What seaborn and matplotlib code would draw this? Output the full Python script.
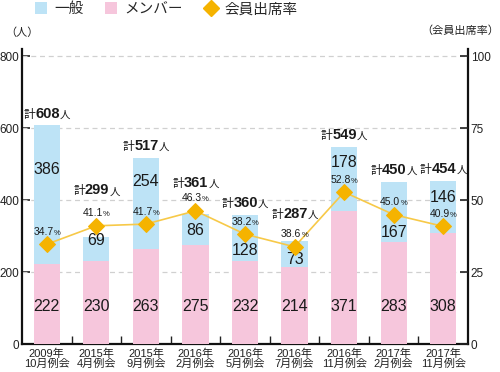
import matplotlib
matplotlib.use("Agg")
import matplotlib.pyplot as plt
import seaborn as sns
import pandas as pd
from matplotlib.patches import Patch
from matplotlib.lines import Line2D
from matplotlib.offsetbox import TextArea, HPacker, AnnotationBbox

sns.set_theme(style="white")
plt.rcParams['font.family'] = ['Liberation Sans', 'Noto Sans CJK JP', 'DejaVu Sans']

categories = ["2009年\n10月例会", "2015年\n4月例会", "2015年\n9月例会", "2016年\n2月例会",
              "2016年\n5月例会", "2016年\n7月例会", "2016年\n11月例会", "2017年\n2月例会",
              "2017年\n11月例会"]
members = [222, 230, 263, 275, 232, 214, 371, 283, 308]
general = [386, 69, 254, 86, 128, 73, 178, 167, 146]
totals = [608, 299, 517, 361, 360, 287, 549, 450, 454]
# attendance rate as plotted (marker heights)
attendance = [34.7, 41.1, 41.7, 46.3, 38.2, 33.8, 52.8, 45.0, 40.9]
# attendance rate as printed in the labels
attendance_labels = ["34.7", "41.1", "41.7", "46.3", "38.2", "38.6", "52.8", "45.0", "40.9"]

# label placement (layout only)
general_label_y = [484, 289, 451, 316, 259, 235, 505, 311, 408]
total_label_y = [640, 427, 551, 449, 392, 362, 581, 484, 486]
member_label_y = 105

blue = "#bde3f6"
pink = "#f6c6dc"
line_c = "#f7c948"
mark_c = "#f5b300"
txt = "#1a1a1a"

df = pd.DataFrame({"cat": categories, "member": members, "general": general,
                   "total": totals, "rate": attendance})

fig = plt.figure(figsize=(5.0, 3.72), dpi=100)
ax = fig.add_axes([0.044, 0.075, 0.892, 0.793])

sns.barplot(data=df, x="cat", y="total", color=blue, width=0.53, ax=ax,
            saturation=1, linewidth=0, zorder=2)
sns.barplot(data=df, x="cat", y="member", color=pink, width=0.53, ax=ax,
            saturation=1, linewidth=0, zorder=3)

ax.set_ylim(0, 820)
ax.set_xlim(-0.5, len(categories) - 0.5)
ax.set_yticks([0, 200, 400, 600, 800])
ax.set_xlabel("")
ax.set_ylabel("")
for yv in [200, 400, 600, 800]:
    ax.axhline(yv, color="#d0d0d0", lw=0.9, ls=(0, (4, 3)), zorder=1)

ax.tick_params(axis="y", direction="in", length=6, width=1.2, labelsize=8.5,
               colors="#222222", pad=2, left=True)
ax.set_xticks(range(len(categories)))
ax.set_xticklabels(categories, fontsize=8, color="#222222", linespacing=0.95)
ax.tick_params(axis="x", length=0, pad=3)
ax.set_xticks([i + 0.5 for i in range(len(categories) - 1)], minor=True)
ax.tick_params(axis="x", which="minor", direction="in", length=6, width=1.0, color="#222222", bottom=True)

for s in ["left", "right", "bottom"]:
    ax.spines[s].set_color("#111111")
    ax.spines[s].set_linewidth(1.6)
ax.spines["top"].set_visible(False)

ax2 = ax.twinx()
ax2.set_ylim(0, 102.5)
sns.lineplot(x=list(range(len(categories))), y=attendance, ax=ax2, color=line_c, lw=1.2,
             marker="D", markersize=8, markerfacecolor=mark_c, markeredgecolor=mark_c, zorder=5)
ax2.set_yticks([0, 25, 50, 75, 100])
ax2.tick_params(axis="y", direction="in", length=6, width=1.2, labelsize=8.5,
                colors="#222222", pad=2, right=True)
for s in ["left", "right", "bottom", "top"]:
    ax2.spines[s].set_visible(False)
ax2.set_ylabel("")

# value labels
for i in range(len(categories)):
    ax.text(i, member_label_y, str(members[i]), ha="center", va="center",
            fontsize=11.5, color=txt, zorder=6)
    ax.text(i, general_label_y[i], str(general[i]), ha="center", va="center",
            fontsize=11.5, color=txt, zorder=6)
    # total label
    parts = HPacker(children=[
        TextArea("計", textprops=dict(fontsize=8.5, color=txt)),
        TextArea(str(totals[i]), textprops=dict(fontsize=10.5, fontweight="bold", color=txt)),
        TextArea("人", textprops=dict(fontsize=7.5, color=txt)),
    ], align="baseline", pad=0, sep=0)
    ab = AnnotationBbox(parts, (i, total_label_y[i]), xycoords="data", frameon=False,
                        box_alignment=(0.5, 0.5), pad=0, zorder=7)
    ax.add_artist(ab)
    # percent label
    pparts = HPacker(children=[
        TextArea(attendance_labels[i], textprops=dict(fontsize=7.5, color=txt)),
        TextArea("%", textprops=dict(fontsize=5.5, color=txt)),
    ], align="baseline", pad=0, sep=0)
    pb = AnnotationBbox(pparts, (i, attendance[i]), xycoords="data",
                        xybox=(0, 9), boxcoords="offset points", frameon=False,
                        box_alignment=(0.5, 0.5), pad=0, zorder=7)
    ax2.add_artist(pb)

fig.text(0.044, 0.912, "（人）", ha="center", va="center", fontsize=8, color="#222222")
fig.text(0.999, 0.918, "（会員出席率）", ha="right", va="center", fontsize=8, color="#222222")

handles = [Patch(facecolor=blue, edgecolor="none"),
           Patch(facecolor=pink, edgecolor="none"),
           Line2D([], [], marker="D", color=mark_c, lw=0, markersize=8)]
fig.legend(handles, ["一般", "メンバー", "会員出席率"], loc="center left",
           bbox_to_anchor=(0.07, 0.975), ncol=3, frameon=False, fontsize=10.5,
           handlelength=0.85, handleheight=0.85, handletextpad=0.5, columnspacing=1.45,
           borderaxespad=0, borderpad=0)

fig.savefig("out.png", dpi=100)
